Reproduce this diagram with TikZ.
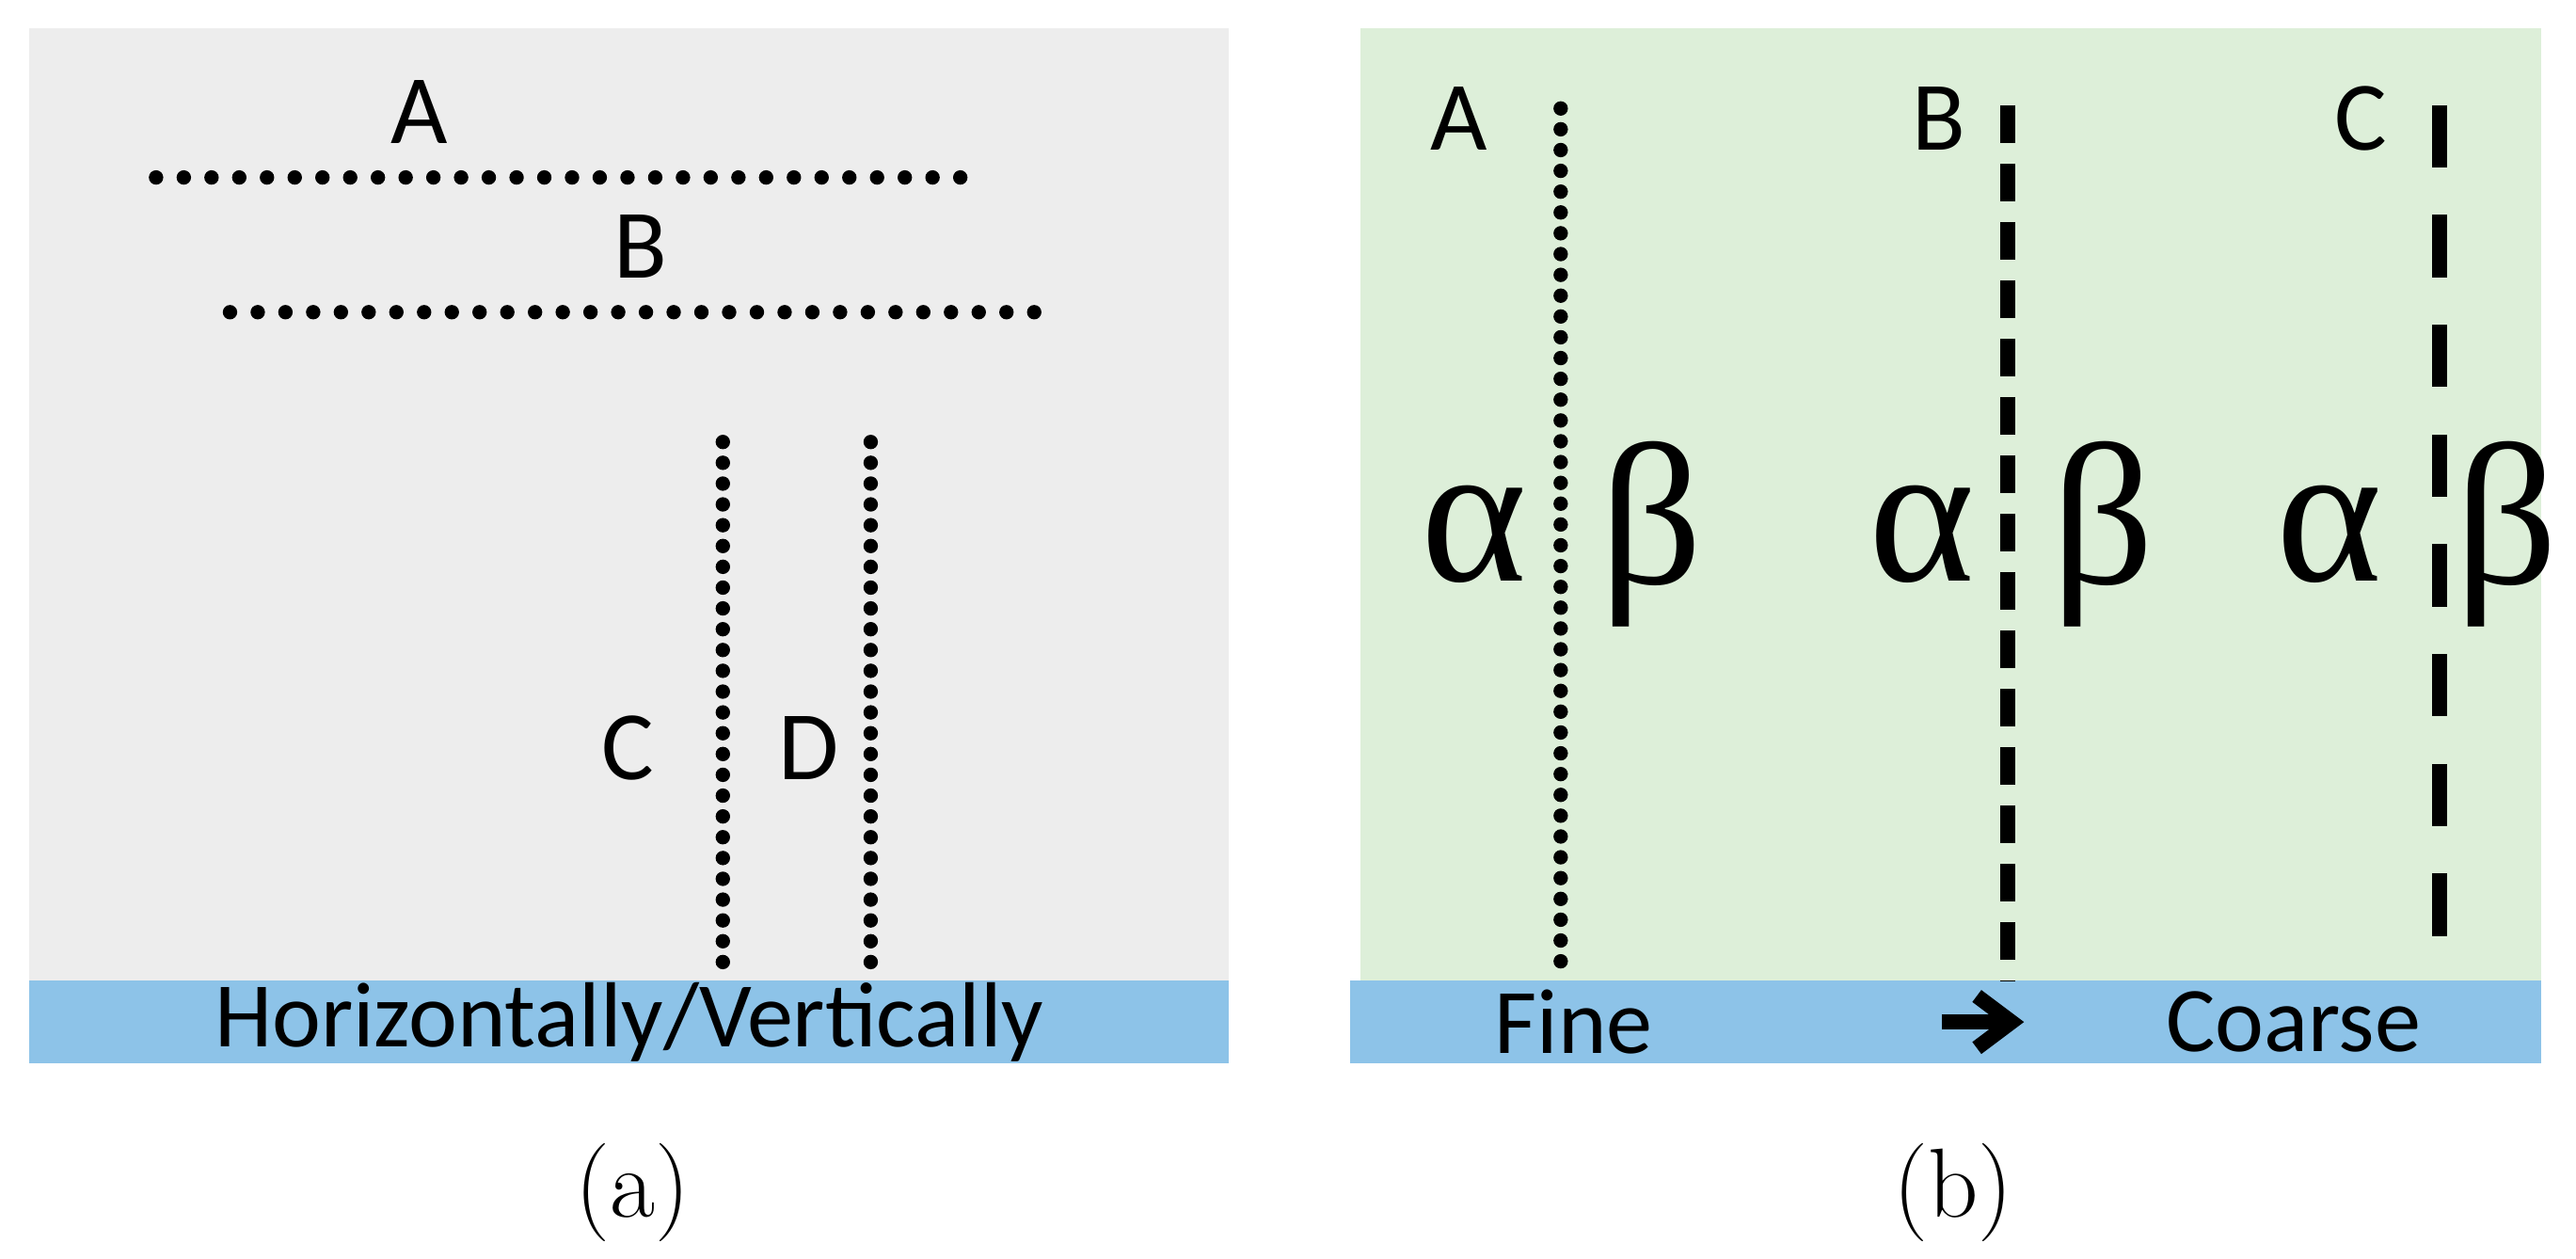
\documentclass[tikz,border=0pt]{standalone}
\usepackage{fontspec}
\setmainfont{Carlito}
\newfontfamily\greekf{Liberation Serif}
\newfontfamily\capf{Latin Modern Roman}
\usetikzlibrary{arrows.meta}
\definecolor{panelgray}{HTML}{EDEDED}
\definecolor{panelgreen}{HTML}{DDEFD9}
\definecolor{barblue}{HTML}{8DC3E8}
\begin{document}
\begin{tikzpicture}[x=0.01cm,y=-0.01cm,
  lbl/.style={font=\fontsize{17}{17}\selectfont},
  bartxt/.style={font=\fontsize{16}{16}\selectfont},
  gr/.style={font=\greekf\fontsize{35}{35}\selectfont},
  captxt/.style={font=\capf\fontsize{17}{17}\selectfont},
  hdots/.style={line width=2.5pt,line cap=round,dash pattern=on 0pt off 4.8pt},
  vdots/.style={line width=2.5pt,line cap=round,dash pattern=on 0pt off 3.6pt},
  dashB/.style={line width=2.5pt,dash pattern=on 6.5pt off 3.6pt},
  dashC/.style={line width=2.5pt,dash pattern=on 10.8pt off 8.2pt}]
\useasboundingbox (0,0) rectangle (1568,766);
% panel (a)
\fill[panelgray] (18,17) rectangle (748,597);
\fill[barblue] (18,597) rectangle (748,647);
\node[bartxt] (ha) at (383,622) {Horizontally/Vertically};
\coordinate (a1) at (95,108); \coordinate (a2) at (590,108);
\coordinate (b1) at (140,190); \coordinate (b2) at (635,190);
\draw[hdots] (a1) -- (a2);
\draw[hdots] (b1) -- (b2);
\node[lbl] (la) at (255,68) {A};
\node[lbl] (lb) at (390,150) {B};
\coordinate (c1) at (440,269); \coordinate (c2) at (440,594);
\coordinate (d1) at (530,269); \coordinate (d2) at (530,594);
\draw[vdots] (c1) -- (c2);
\draw[vdots] (d1) -- (d2);
\node[lbl] (lc) at (382,455) {C};
\node[lbl] (ld) at (492,455) {D};
\node[captxt] (capa) at (385,726) {(a)};
% panel (b)
\fill[panelgreen] (828,17) rectangle (1547,597);
\fill[barblue] (822,597) rectangle (1547,647);
\node[bartxt] (fine) at (958,622) {Fine};
\node[bartxt] (coarse) at (1396,622) {Coarse};
\coordinate (ar1) at (1182,622); \coordinate (ar2) at (1232,622);
\draw[line width=2.6pt,-{Straight Barb[length=6pt,width=9pt,line width=2.6pt]}] (ar1) -- (ar2);
\coordinate (A1) at (950,66); \coordinate (A2) at (950,594);
\coordinate (B1) at (1222,64); \coordinate (B2) at (1222,597);
\coordinate (C1) at (1485,64); \coordinate (C2) at (1485,597);
\draw[vdots] (A1) -- (A2);
\draw[dashB] (B1) -- (B2);
\draw[dashC] (C1) -- (C2);
\node[lbl] (lA) at (888,72) {A};
\node[lbl] (lB) at (1180,72) {B};
\node[lbl] (lC) at (1437,72) {C};
\node[gr] (al1) at (897,325) {α};
\node[gr] (be1) at (1005,325) {β};
\node[gr] (al2) at (1170,325) {α};
\node[gr] (be2) at (1280,325) {β};
\node[gr] (al3) at (1418,325) {α};
\node[gr] (be3) at (1526,325) {β};
\node[captxt] (capb) at (1189,726) {(b)};
\end{tikzpicture}
\end{document}
